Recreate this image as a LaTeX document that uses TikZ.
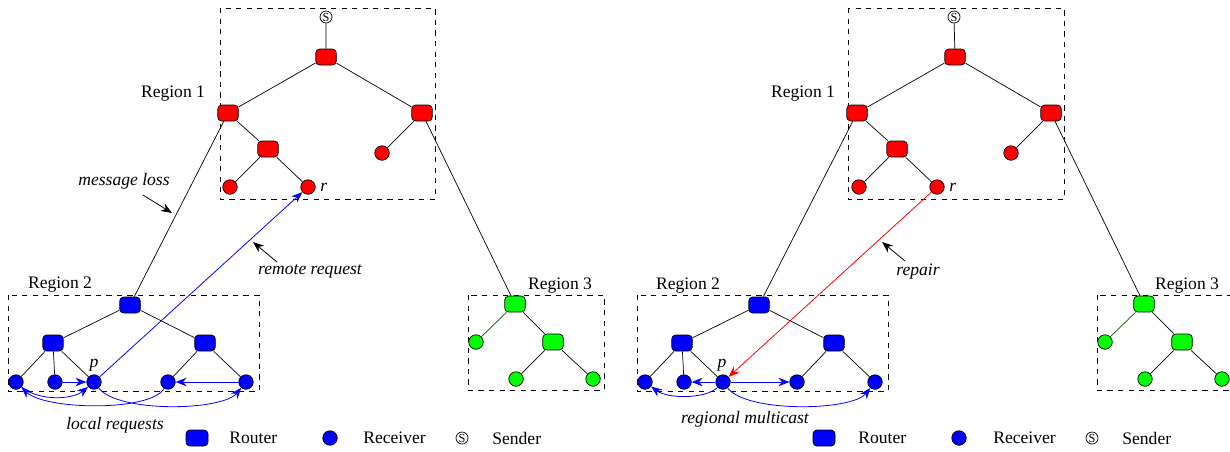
\documentclass[tikz,border=0pt]{standalone}
\usepackage{fontspec}
\setmainfont{Liberation Serif}
\usetikzlibrary{arrows.meta}

\begin{document}
\begin{tikzpicture}[x=0.02cm,y=-0.02cm,>={Stealth[length=2.2mm,width=1.7mm]},every node/.style={font=\normalsize},router/.style={draw,rounded corners=2.2pt,minimum width=0.41cm,minimum height=0.32cm,inner sep=0pt},receiver/.style={draw,circle,minimum size=0.29cm,inner sep=0pt},sender/.style={draw,circle,minimum size=0.24cm,inner sep=0pt,font=\fontsize{7}{7}\selectfont},region/.style={draw,dashed,line width=0.5pt},arrow/.style={->,line width=0.45pt},note/.style={font=\itshape},legtext/.style={anchor=west,inner sep=0pt}]
\useasboundingbox (0,0) rectangle (1230,451);
\begin{scope}[name prefix=L-]
\draw[region] (220,8) rectangle (435,199); \draw[region] (8,295) rectangle (259,391); \draw[region] (468,295) rectangle (604,390);
\node (reg1) at (173,94) {Region 1}; \node (reg2) at (60,285) {Region 2}; \node (reg3) at (560,286) {Region 3};
\node[sender] (snd) at (326,17) {S};
\node[router,fill=red] (top) at (326,57) {}; \node[router,fill=red] (left) at (228,113) {}; \node[router,fill=red] (right) at (422,113) {}; \node[router,fill=red] (mid) at (268,149) {};
\node[receiver,fill=red] (ra) at (230,187) {}; \node[receiver,fill=red] (r) at (308,187) {}; \node[receiver,fill=red] (rb) at (382,153) {};
\node[router,fill=blue] (btop) at (130,305) {}; \node[router,fill=blue] (bleft) at (53,343) {}; \node[router,fill=blue] (bright) at (205,343) {};
\node[receiver,fill=blue] (b1) at (16,382) {}; \node[receiver,fill=blue] (b2) at (55,382) {}; \node[receiver,fill=blue] (p) at (94,382) {}; \node[receiver,fill=blue] (b4) at (168,382) {}; \node[receiver,fill=blue] (b5) at (246,382) {};
\node[router,fill=green] (gtop) at (515,304) {}; \node[router,fill=green] (gmid) at (553,342) {};
\node[receiver,fill=green] (g1) at (476,342) {}; \node[receiver,fill=green] (g2) at (516,379) {}; \node[receiver,fill=green] (g3) at (593,379) {};
\node[note,anchor=west,inner sep=0pt] at (320,187) {r}; \node[note] at (94,365) {p};
\draw (snd) -- (top) (top) -- (left) (top) -- (right) (left) -- (mid) (mid) -- (ra) (mid) -- (r) (right) -- (rb) (left) -- (btop) (right) -- (gtop);
\draw (btop) -- (bleft) (btop) -- (bright) (bleft) -- (b1) (bleft) -- (b2) (bleft) -- (p) (bright) -- (b4) (bright) -- (b5);
\draw[green!35!black] (gtop) -- (g1); \draw (gtop) -- (gmid) (gmid) -- (g2) (gmid) -- (g3);
\draw[arrow,blue] (p) -- (r); \draw[arrow,blue] (b2) -- (p); \draw[arrow,blue] (b5) -- (b4);
\draw[arrow,blue] (b1) .. controls (38,401) and (72,400) .. (p);
\draw[arrow,blue] (b4) .. controls (150,412) and (45,410) .. (b1);
\draw[arrow,blue] (p) .. controls (118,413) and (222,411) .. (b5);
\node[note] (loss) at (124,181) {message loss}; \coordinate (losstail) at (143,195); \coordinate (losshit) at (172,213);
\draw[arrow] (losstail) -- (losshit);
\node[note] (remote) at (310,271) {remote request}; \coordinate (remtail) at (277,262); \coordinate (remhit) at (253,242);
\draw[arrow] (remtail) -- (remhit);
\node[note] (local) at (115,425) {local requests};
\node[router,fill=blue,minimum width=0.44cm] (legrouter) at (197,438) {}; \node[legtext] at (229,438) {Router};
\node[receiver,fill=blue] (legrcv) at (330,438) {}; \node[legtext] at (363,438) {Receiver};
\node[sender] (legsnd) at (462,438) {S}; \node[legtext] at (492,438) {Sender};
\end{scope}
\begin{scope}[name prefix=R-]
\draw[region] (848,8) rectangle (1064,199); \draw[region] (637,295) rectangle (888,391); \draw[region] (1097,295) rectangle (1233,390);
\node (reg1) at (803,94) {Region 1}; \node (reg2) at (688,286) {Region 2}; \node (reg3) at (1187,286) {Region 3};
\node[sender] (snd) at (954,17) {S};
\node[router,fill=red] (top) at (955,57) {}; \node[router,fill=red] (left) at (857,113) {}; \node[router,fill=red] (right) at (1051,113) {}; \node[router,fill=red] (mid) at (897,149) {};
\node[receiver,fill=red] (ra) at (859,187) {}; \node[receiver,fill=red] (r) at (937,187) {}; \node[receiver,fill=red] (rb) at (1011,153) {};
\node[router,fill=blue] (btop) at (759,305) {}; \node[router,fill=blue] (bleft) at (682,343) {}; \node[router,fill=blue] (bright) at (834,343) {};
\node[receiver,fill=blue] (b1) at (645,382) {}; \node[receiver,fill=blue] (b2) at (684,382) {}; \node[receiver,fill=blue] (p) at (723,382) {}; \node[receiver,fill=blue] (b4) at (797,382) {}; \node[receiver,fill=blue] (b5) at (875,382) {};
\node[router,fill=green] (gtop) at (1144,304) {}; \node[router,fill=green] (gmid) at (1182,342) {};
\node[receiver,fill=green] (g1) at (1105,342) {}; \node[receiver,fill=green] (g2) at (1145,379) {}; \node[receiver,fill=green] (g3) at (1222,379) {};
\node[note,anchor=west,inner sep=0pt] at (949,187) {r}; \node[note] at (722,365) {p};
\draw (snd) -- (top) (top) -- (left) (top) -- (right) (left) -- (mid) (mid) -- (ra) (mid) -- (r) (right) -- (rb) (left) -- (btop) (right) -- (gtop);
\draw (btop) -- (bleft) (btop) -- (bright) (bleft) -- (b1) (bleft) -- (b2) (bleft) -- (p) (bright) -- (b4) (bright) -- (b5);
\draw[green!35!black] (gtop) -- (g1); \draw (gtop) -- (gmid) (gmid) -- (g2) (gmid) -- (g3);
\draw[arrow,red] (r) -- (p); \draw[arrow,blue] (p) -- (b2); \draw[arrow,blue] (p) -- (b4);
\draw[arrow,blue] (p) .. controls (706,399) and (668,399) .. (b1);
\draw[arrow,blue] (p) .. controls (747,413) and (852,411) .. (b5);
\node[note] (rep) at (918,272) {repair}; \coordinate (reptail) at (905,261); \coordinate (rephit) at (882,242);
\draw[arrow] (reptail) -- (rephit);
\node[note] (mcast) at (745,419) {regional multicast};
\node[router,fill=blue,minimum width=0.44cm] (legrouter) at (824,438) {}; \node[legtext] at (858,438) {Router};
\node[receiver,fill=blue] (legrcv) at (959,438) {}; \node[legtext] at (993,438) {Receiver};
\node[sender] (legsnd) at (1092,438) {S}; \node[legtext] at (1122,438) {Sender};
\end{scope}
\end{tikzpicture}
\end{document}
